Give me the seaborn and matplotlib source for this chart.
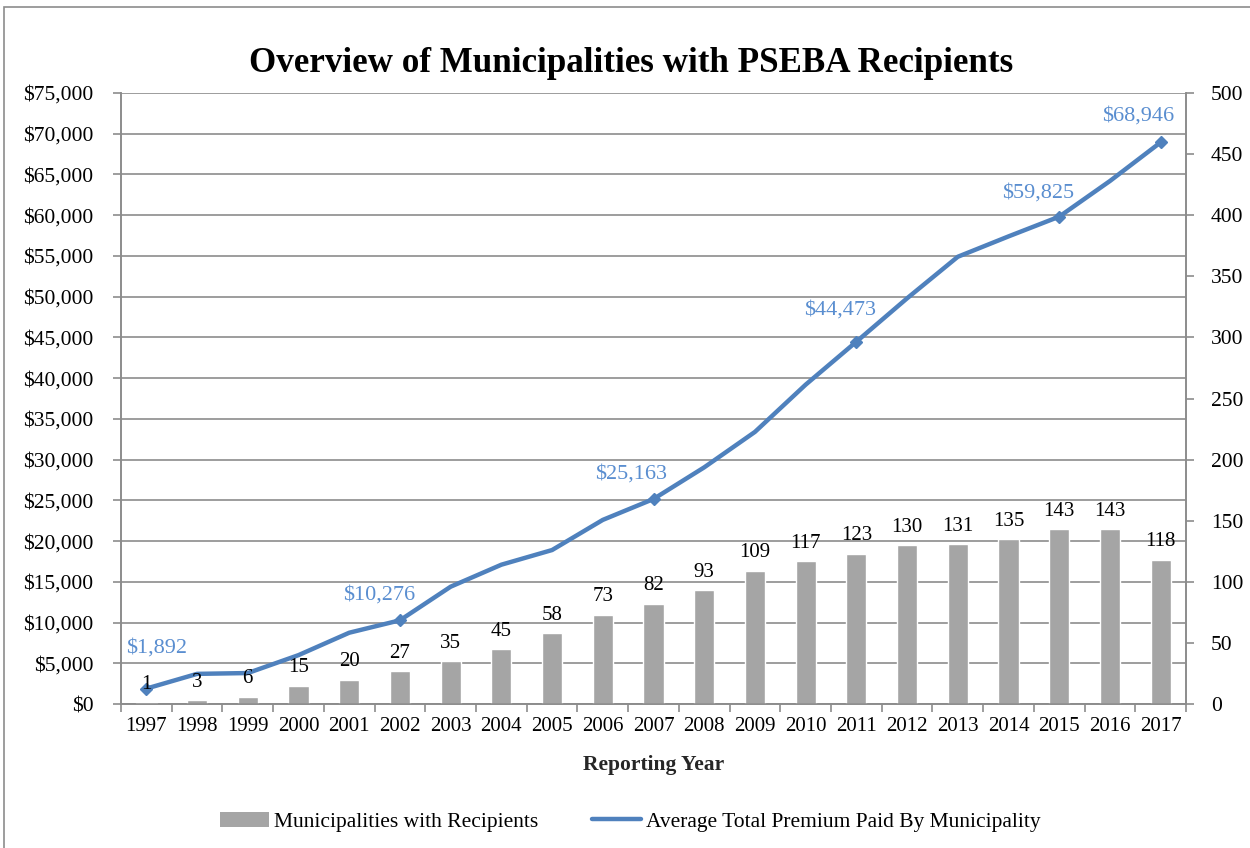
import numpy as np
import pandas as pd
import seaborn as sns
import matplotlib.pyplot as plt
from matplotlib.patches import Patch, Rectangle
from matplotlib.lines import Line2D
from matplotlib.ticker import FuncFormatter, MultipleLocator

# data
years = [str(y) for y in range(1997, 2018)]
municipalities = [1, 3, 6, 15, 20, 27, 35, 45, 58, 73, 82, 93, 109, 117, 123, 130, 131, 135, 143, 143, 118]
avg_premium = [1892, 3700, 3800, 6000, 8750, 10276, 14400, 17100, 18900, 22600, 25163,
               29050, 33400, 39200, 44473, 49800, 54900, 57400, 59825, 64200, 68946]
labelled_years = ["1997", "2002", "2007", "2011", "2015", "2017"]

df = pd.DataFrame({"year": years, "count": municipalities, "premium": avg_premium})
df["pos"] = np.arange(len(df))

sns.set_style("white")
plt.rcParams["font.family"] = ["Liberation Serif", "DejaVu Serif"]
plt.rcParams["text.color"] = "black"
plt.rcParams["xtick.color"] = "black"
plt.rcParams["ytick.color"] = "black"

bar_color = "#A5A5A5"
line_color = "#4F81BD"
label_blue = "#5A8ED0"
grid_color = "#8C8C8C"

fig = plt.figure(figsize=(12.5, 8.48), dpi=100)
ax = fig.add_axes([0.0968, 0.1698, 0.852, 0.7205])
ax2 = ax.twinx()

# gridlines on the left (premium) axis, behind the bars
ax.set_ylim(0, 75000)
ax.yaxis.set_major_locator(MultipleLocator(5000))
ax.yaxis.set_major_formatter(FuncFormatter(lambda v, p: f"${v:,.0f}"))
ax.grid(axis="y", color=grid_color, linewidth=1.2)
ax.grid(axis="x", visible=False)

# line for average premium
sns.lineplot(data=df, x="pos", y="premium", ax=ax, color=line_color, linewidth=3.2,
             legend=False, zorder=3)
lab = df[df["year"].isin(labelled_years)]
ax.plot(lab["pos"], lab["premium"], linestyle="none", marker="D", markersize=6,
        color=line_color, zorder=4)
label_offsets = {"1997": (7, 29), "2002": (-15, 18), "2007": (-16, 18),
                 "2011": (-12, 23), "2015": (-15, 17), "2017": (-16, 19)}
for _, r in lab.iterrows():
    dx, dy = label_offsets[r["year"]]
    ax.annotate(f"${r['premium']:,.0f}", (r["pos"], r["premium"]), xytext=(dx, dy),
                textcoords="offset points", ha="center", va="center",
                fontsize=16, color=label_blue, zorder=5)

# bars for municipality counts on the right axis
sns.barplot(data=df, x="year", y="count", ax=ax2, color=bar_color, width=0.4,
            saturation=1, zorder=2)
ax2.set_ylim(0, 500)
ax2.yaxis.set_major_locator(MultipleLocator(50))
ax2.bar_label(ax2.containers[0], fontsize=15, padding=6, color="black")
ax2.grid(False)

for a in (ax, ax2):
    a.set_xlim(-0.5, len(years) - 0.5)
ax.set_xticks(np.arange(len(years)))
ax.set_xticklabels(years)
ax.set_xticks(np.arange(-0.5, len(years)), minor=True)
ax.tick_params(axis="x", which="major", length=0, labelsize=15, pad=9, bottom=True)
ax.tick_params(axis="x", which="minor", length=6, color=grid_color, width=1.2, bottom=True)
ax.tick_params(axis="y", which="major", length=6, color=grid_color, width=1.2,
               labelsize=15.5, left=True, pad=14)
ax2.tick_params(axis="y", which="major", length=6, color=grid_color, width=1.2,
                labelsize=15.5, right=True, pad=12)

ax.set_ylabel("")
ax2.set_ylabel("")
ax2.set_xlabel("")
ax.set_xlabel("Reporting Year", fontsize=15.5, fontweight="bold", labelpad=14)

for a in (ax, ax2):
    a.spines["top"].set_visible(False)
    for s in ("left", "right", "bottom"):
        a.spines[s].set_color(grid_color)
        a.spines[s].set_linewidth(1.2)

fig.suptitle("Overview of Municipalities with PSEBA Recipients", fontsize=25.2,
             fontweight="bold", x=0.505, y=0.945)

handles = [Patch(facecolor=bar_color, edgecolor="none"),
           Line2D([0], [0], color=line_color, linewidth=3.2)]
fig.legend(handles, ["Municipalities with Recipients", "Average Total Premium Paid By Municipality"],
           loc="center", bbox_to_anchor=(0.504, 0.031), ncol=2, frameon=False,
           fontsize=15.5, handlelength=2.3, handletextpad=0.2, columnspacing=2.5)

fig.patches.append(Rectangle((0.003, -0.01), 1.2, 1.002, transform=fig.transFigure,
                             fill=False, edgecolor="#8C8C8C", linewidth=1.2))

fig.savefig("out.png", dpi=100)
